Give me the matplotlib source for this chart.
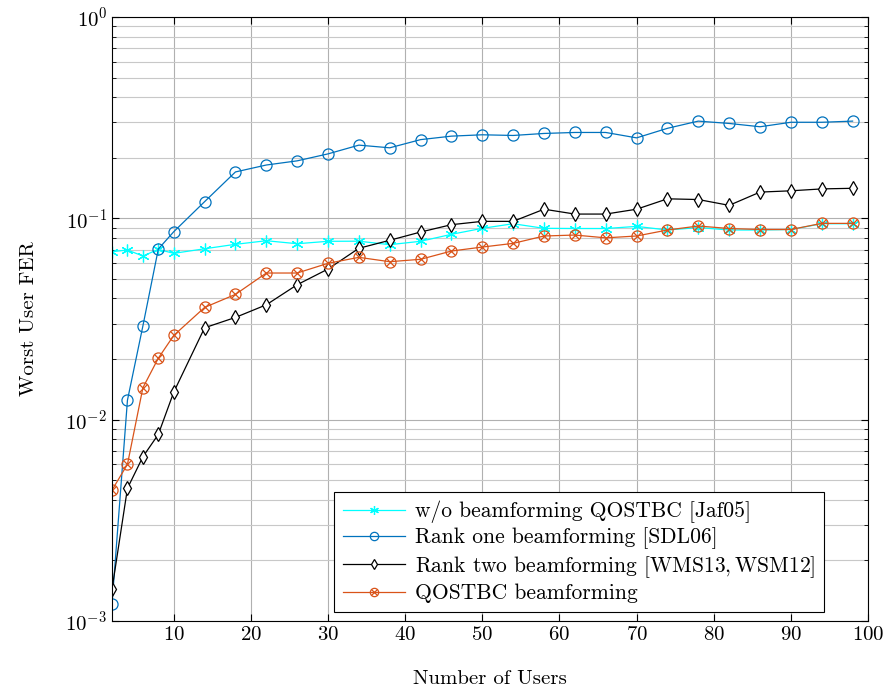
import numpy as np
import matplotlib.pyplot as plt
from matplotlib.legend_handler import HandlerTuple
from matplotlib.ticker import LogLocator, NullFormatter

plt.rcParams['font.family'] = 'serif'
plt.rcParams['font.serif'] = ['cmr10']
plt.rcParams['mathtext.fontset'] = 'cm'
plt.rcParams['axes.formatter.use_mathtext'] = True

users = [2, 4, 6, 8, 10, 14, 18, 22, 26, 30, 34, 38, 42, 46, 50, 54, 58, 62,
         66, 70, 74, 78, 82, 86, 90, 94, 98]

fer_no_bf = [0.0683, 0.0696, 0.065, 0.0701, 0.067, 0.0706, 0.0743, 0.0774,
             0.0748, 0.0769, 0.077, 0.074, 0.0769, 0.0833, 0.0892, 0.094,
             0.0892, 0.089, 0.089, 0.0912, 0.0875, 0.090, 0.0875, 0.0875,
             0.088, 0.094, 0.094]
fer_rank1 = [0.00122, 0.0125, 0.0292, 0.0704, 0.0858, 0.121, 0.170, 0.184,
             0.193, 0.209, 0.231, 0.224, 0.246, 0.256, 0.260, 0.258, 0.264,
             0.267, 0.267, 0.251, 0.280, 0.304, 0.296, 0.285, 0.300, 0.300,
             0.304]
fer_rank2 = [0.00144, 0.00456, 0.00654, 0.00845, 0.0137, 0.0286, 0.0322,
             0.0372, 0.0468, 0.056, 0.071, 0.0778, 0.0855, 0.093, 0.0966,
             0.0966, 0.111, 0.105, 0.105, 0.111, 0.125, 0.124, 0.116, 0.135,
             0.137, 0.140, 0.141]
fer_qostbc = [0.00447, 0.0060, 0.0144, 0.0202, 0.0262, 0.0361, 0.0419,
              0.0535, 0.0535, 0.0598, 0.064, 0.0609, 0.0626, 0.0688, 0.072,
              0.0751, 0.0817, 0.0826, 0.080, 0.0817, 0.0875, 0.0916, 0.089,
              0.088, 0.088, 0.0944, 0.0944]

labels = ['w/o beamforming QOSTBC [Jaf05]',
          'Rank one beamforming [SDL06]',
          r'Rank two beamforming [WMS13$,$WSM12]',
          'QOSTBC beamforming']

c_cyan = '#00FFFF'
c_blue = '#0072BD'
c_orange = '#D95319'

fig = plt.figure(figsize=(8.87, 6.91), dpi=100)
ax = fig.add_axes([0.1263, 0.1013, 0.8523, 0.8741])

h1, = ax.plot(users, fer_no_bf, color=c_cyan, lw=0.9, marker=(6, 2, 0),
              ms=8.5, mew=0.9)
h2, = ax.plot(users, fer_rank1, color=c_blue, lw=0.9, marker='o', ms=8,
              mfc='none', mew=0.9)
h3, = ax.plot(users, fer_rank2, color='black', lw=0.9, marker='d', ms=7,
              mfc='white', mew=0.9)
h4a, = ax.plot(users, fer_qostbc, color=c_orange, lw=0.9, marker='o', ms=8,
               mfc='none', mew=0.9)
h4b, = ax.plot(users, fer_qostbc, color=c_orange, ls='none', marker='x',
               ms=5.5, mew=0.9)

ax.set_yscale('log')
ax.set_xlim(2, 100)
ax.set_ylim(1e-3, 1)
ax.set_xticks(np.arange(10, 101, 10))
ax.yaxis.set_minor_locator(LogLocator(base=10, subs=np.arange(2, 10)))
ax.yaxis.set_minor_formatter(NullFormatter())

ax.grid(True, which='major', color='#b0b0b0', lw=0.8)
ax.grid(True, which='minor', axis='y', color='#c8c8c8', lw=0.8)
ax.set_axisbelow(True)
ax.tick_params(which='both', direction='in', top=True, right=True,
               labelsize=15)
ax.tick_params(which='major', length=5)
ax.tick_params(which='minor', length=3)

ax.set_xlabel('Number of Users', fontsize=15, labelpad=19)
ax.set_ylabel('Worst User FER', fontsize=15, labelpad=20)

leg = ax.legend([h1, h2, h3, (h4a, h4b)], labels,
                handler_map={tuple: HandlerTuple(ndivide=1, pad=0)},
                loc='lower right', bbox_to_anchor=(0.942, 0.015),
                borderaxespad=0, fontsize=15.5, fancybox=False,
                edgecolor='black', framealpha=1, handlelength=2.9,
                labelspacing=0.2, borderpad=0.4, handletextpad=0.45,
                markerscale=0.75)
leg.get_frame().set_linewidth(0.8)

fig.savefig('out.png', dpi=100)
